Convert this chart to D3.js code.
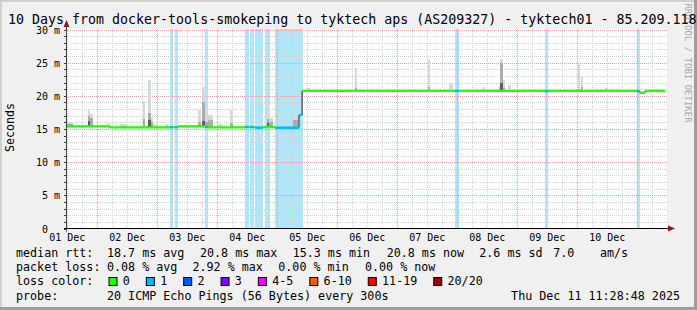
<!DOCTYPE html>
<html>
<head>
<meta charset="utf-8">
<script src="https://cdnjs.cloudflare.com/ajax/libs/d3/7.8.5/d3.min.js"></script>
<style>
  html, body { margin: 0; padding: 0; background: #f0f0f0; }
  svg text { font-family: "DejaVu Sans Mono", monospace; }
</style>
</head>
<body>
<div id="chart"></div>
<script>
// ---- data ----
var titleText = "10 Days from docker-tools-smokeping to tyktech aps (AS209327) - tyktech01 - 85.209.118";
var rangeStart = "2025-12-01 11:28:48",
    rangeEnd = "2025-12-11 11:28:48";

// median rtt (ms), stepped; loss = lost pings of 20 for that step
var medianTimes = ["2025-12-01 11:28:48", "2025-12-02 05:00:00", "2025-12-03 05:05:00", "2025-12-03 06:15:00",
    "2025-12-03 07:05:00", "2025-12-03 08:15:00", "2025-12-03 19:05:00", "2025-12-03 20:15:00",
    "2025-12-04 11:05:00", "2025-12-04 12:30:00", "2025-12-04 13:05:00", "2025-12-04 14:40:00",
    "2025-12-04 15:05:00", "2025-12-04 18:15:00", "2025-12-04 23:05:00", "2025-12-05 08:40:00",
    "2025-12-05 09:55:00", "2025-12-07 23:05:00", "2025-12-08 00:40:00", "2025-12-09 11:05:00",
    "2025-12-09 12:15:00", "2025-12-10 23:50:00", "2025-12-11 01:05:00", "2025-12-11 03:05:00"];
var medianValues = [15.4, 15.25, 15.25, 15.3, 15.25, 15.4, 15.3, 15.25, 15.3, 15.3, 15.3, 15.3,
    15.2, 15.3, 15.2, 17.1, 20.75, 20.75, 20.75, 20.7, 20.75, 20.7, 20.45, 20.75];
var medianLoss = [0, 0, 1, 0, 1, 0, 1, 0, 1, 0, 1, 0, 1, 0, 1, 1, 0, 1, 0, 1, 0, 1, 0, 0];
var medianEnd = "2025-12-11 11:05:00";

// light blue loss bands
var bandStart = ["2025-12-03 05:05:00", "2025-12-03 07:05:00", "2025-12-03 19:05:00", "2025-12-04 11:05:00",
    "2025-12-04 13:05:00", "2025-12-04 15:05:00", "2025-12-04 19:05:00", "2025-12-04 23:05:00",
    "2025-12-07 23:05:00", "2025-12-09 11:05:00", "2025-12-10 23:50:00"];
var bandEnd = ["2025-12-03 06:15:00", "2025-12-03 08:15:00", "2025-12-03 20:15:00", "2025-12-04 12:30:00",
    "2025-12-04 14:40:00", "2025-12-04 18:15:00", "2025-12-04 21:05:00", "2025-12-05 10:15:00",
    "2025-12-08 00:40:00", "2025-12-09 12:15:00", "2025-12-11 01:05:00"];

// smoke (ping spread above the median): top / mid / dark levels in ms, 0 = none
var smokeStart = ["2025-12-01 11:52", "2025-12-01 20:17", "2025-12-01 21:05", "2025-12-02 03:53", "2025-12-02 09:05",
    "2025-12-02 18:10", "2025-12-02 20:17", "2025-12-02 21:22", "2025-12-02 22:17", "2025-12-03 03:05",
    "2025-12-03 16:23", "2025-12-03 17:47", "2025-12-03 19:05", "2025-12-03 20:23", "2025-12-04 00:23",
    "2025-12-04 05:05", "2025-12-04 19:47", "2025-12-04 20:47", "2025-12-05 06:17", "2025-12-05 11:29",
    "2025-12-06 07:05", "2025-12-07 12:17", "2025-12-07 20:41", "2025-12-08 10:11", "2025-12-08 13:47",
    "2025-12-08 16:17", "2025-12-08 17:05", "2025-12-08 18:17", "2025-12-08 20:17", "2025-12-10 00:11",
    "2025-12-10 01:29", "2025-12-10 11:05"];
var smokeEnd = ["2025-12-01 14:16", "2025-12-01 21:05", "2025-12-01 22:17", "2025-12-02 05:05", "2025-12-02 11:53",
    "2025-12-02 19:05", "2025-12-02 21:22", "2025-12-02 22:10", "2025-12-02 23:53", "2025-12-03 04:17",
    "2025-12-03 17:23", "2025-12-03 19:05", "2025-12-03 20:23", "2025-12-03 22:11", "2025-12-04 02:11",
    "2025-12-04 06:11", "2025-12-04 20:47", "2025-12-04 22:11", "2025-12-05 08:17", "2025-12-05 13:05",
    "2025-12-06 07:53", "2025-12-07 13:05", "2025-12-07 22:17", "2025-12-08 11:05", "2025-12-08 15:05",
    "2025-12-08 17:05", "2025-12-08 18:17", "2025-12-08 19:05", "2025-12-08 21:23", "2025-12-10 01:05",
    "2025-12-10 02:17", "2025-12-10 12:17"];
var smokeTop = [16.0, 17.9, 17.3, 15.8, 15.8, 19.2, 22.4, 16.6, 15.7, 15.8, 17.9, 21.3, 18.3, 17.1, 15.8,
    17.9, 18.9, 16.7, 17.3, 21.2, 24.2, 25.4, 21.8, 21.4, 21.1, 21.5, 25.5, 22.4, 21.6, 25.0, 22.8, 21.2];
var smokeMid = [15.7, 17.0, 16.6, 0, 0, 16.5, 17.4, 16.0, 0, 0, 16.0, 19.0, 16.0, 16.3, 0,
    15.9, 16.5, 16.0, 16.4, 0, 21.2, 21.3, 0, 0, 0, 0, 25.0, 21.2, 0, 21.0, 21.4, 0];
var smokeDark = [0, 16.2, 0, 0, 0, 0, 16.4, 0, 0, 0, 0, 16.2, 0, 0, 0,
    0, 15.9, 0, 0, 0, 0, 0, 0, 0, 0, 0, 22.0, 0, 0, 0, 0, 0];

var yTicks = [0, 5, 10, 15, 20, 25, 30];
var yUnit = "m";
var dayLabels = ["01 Dec", "02 Dec", "03 Dec", "04 Dec", "05 Dec", "06 Dec", "07 Dec", "08 Dec", "09 Dec", "10 Dec"];

var rttStats = [18.7, 20.8, 15.3, 20.8, 2.6];
var rttStatNames = ["avg", "max", "min", "now", "sd"];
var amPerSec = 7.0;
var lossStats = [0.08, 2.92, 0.00, 0.00];
var lossStatNames = ["avg", "max", "min", "now"];
var lossLabels = ["0", "1", "2", "3", "4-5", "6-10", "11-19", "20/20"];
var lossColors = ["#26ff00", "#00b8ff", "#0059ff", "#7e00ff", "#ff00ff", "#ff5500", "#ff0000", "#a10000"];
var probeText = "20 ICMP Echo Pings (56 Bytes) every 300s";
var stampText = "Thu Dec 11 11:28:48 2025";

// ---- drawing ----
var width = 697, height = 310;
var plotLeft = 66, plotRight = 666, plotTop = 29.5, plotBottom = 228.5;

var parse = function (s) {
    return d3.timeParse("%Y-%m-%d %H:%M:%S")(s) || d3.timeParse("%Y-%m-%d %H:%M")(s);
};

var x = d3.scaleTime()
    .domain([parse(rangeStart), parse(rangeEnd)])
    .range([plotLeft, plotRight]);
var y = d3.scaleLinear()
    .domain([0, 30])
    .range([plotBottom, plotTop]);

var crisp = function (v) { return Math.round(v) + 0.5; };

var svg = d3.select("#chart")
    .append("svg")
    .attr("width", width)
    .attr("height", height);

// background + 3d frame
svg.append("rect").attr("width", width).attr("height", height).attr("fill", "#f0f0f0");
svg.append("rect").attr("x", 0).attr("y", 0).attr("width", 2).attr("height", height).attr("fill", "#cfcfcf");
svg.append("rect").attr("x", 0).attr("y", 0).attr("width", width).attr("height", 2).attr("fill", "#cfcfcf");
svg.append("rect").attr("x", width - 3).attr("y", 0).attr("width", 3).attr("height", height).attr("fill", "#9e9e9e");
svg.append("rect").attr("x", 0).attr("y", height - 3).attr("width", width).attr("height", 3).attr("fill", "#9e9e9e");

// canvas
svg.append("rect")
    .attr("x", plotLeft).attr("y", 29)
    .attr("width", plotRight - plotLeft + 1).attr("height", plotBottom - 29)
    .attr("fill", "#ffffff");

// loss bands
svg.append("g").selectAll("rect")
    .data(d3.range(bandStart.length))
    .enter()
    .append("rect")
    .attr("x", function (i) { return Math.round(x(parse(bandStart[i]))); })
    .attr("width", function (i) { return Math.max(1, Math.round(x(parse(bandEnd[i]))) - Math.round(x(parse(bandStart[i])))); })
    .attr("y", 29)
    .attr("height", plotBottom - 29)
    .attr("fill", "#b0e6fa");

// grid
var grid = svg.append("g").attr("stroke-width", 1).attr("stroke-dasharray", "1,1").attr("fill", "none");
var gridHours = d3.timeHour.every(6).range(x.domain()[0], x.domain()[1]);
grid.selectAll("line.v")
    .data(gridHours)
    .enter()
    .append("line")
    .attr("x1", function (d) { return crisp(x(d)); })
    .attr("x2", function (d) { return crisp(x(d)); })
    .attr("y1", 29).attr("y2", plotBottom)
    .attr("stroke", function (d) { return d.getHours() === 0 ? "#eaa0a0" : "#d2d2d2"; });

grid.selectAll("line.h")
    .data(d3.range(1, 31))
    .enter()
    .append("line")
    .attr("x1", plotLeft).attr("x2", plotRight + 1)
    .attr("y1", function (d) { return crisp(y(d)); })
    .attr("y2", function (d) { return crisp(y(d)); })
    .attr("stroke", function (d) { return d % 5 === 0 ? "#eaa0a0" : "#d2d2d2"; });

// smoke
var medTimes = medianTimes.map(parse);
var medianAt = function (t) {
    var i = d3.bisectRight(medTimes, t) - 1;
    return medianValues[Math.max(0, i)];
};
var smoke = svg.append("g");
var smokeIdx = d3.range(smokeStart.length);
var levels = [[smokeTop, "#d8d8d8"], [smokeMid, "#acacac"], [smokeDark, "#5e5e5e"]];
levels.forEach(function (lv) {
    smoke.append("g").selectAll("rect")
        .data(smokeIdx.filter(function (i) { return lv[0][i] > 0; }))
        .enter()
        .append("rect")
        .attr("x", function (i) { return Math.round(x(parse(smokeStart[i]))); })
        .attr("width", function (i) { return Math.max(1, Math.round(x(parse(smokeEnd[i]))) - Math.round(x(parse(smokeStart[i])))); })
        .attr("y", function (i) { return Math.round(y(lv[0][i])); })
        .attr("height", function (i) {
            var base = medianAt(parse(smokeStart[i]));
            return Math.max(0, Math.round(y(base)) - Math.round(y(lv[0][i])));
        })
        .attr("fill", lv[1]);
});

// median: thin black step line under loss-coloured segments
var stepPts = medTimes.map(function (t, i) { return [t, medianValues[i]]; });
stepPts.push([parse(medianEnd), medianValues[medianValues.length - 1]]);
svg.append("path")
    .datum(stepPts)
    .attr("fill", "none")
    .attr("stroke", "#202020")
    .attr("stroke-width", 1)
    .attr("d", d3.line()
        .curve(d3.curveStepAfter)
        .x(function (d) { return x(d[0]); })
        .y(function (d) { return y(d[1]); }));

var segEnds = medTimes.slice(1).concat([parse(medianEnd)]);
svg.append("g").selectAll("line")
    .data(d3.range(medTimes.length))
    .enter()
    .append("line")
    .attr("x1", function (i) { return x(medTimes[i]); })
    .attr("x2", function (i) { return x(segEnds[i]); })
    .attr("y1", function (i) { return y(medianValues[i]); })
    .attr("y2", function (i) { return y(medianValues[i]); })
    .attr("stroke", function (i) { return lossColors[medianLoss[i]]; })
    .attr("stroke-width", 2.4);

// axes
var axisG = svg.append("g");
axisG.selectAll("line.tick")
    .data(d3.range(0, 31))
    .enter()
    .append("line")
    .attr("x1", plotLeft - 2).attr("x2", plotLeft)
    .attr("y1", function (d) { return crisp(y(d)); })
    .attr("y2", function (d) { return crisp(y(d)); })
    .attr("stroke", "#404040");
axisG.append("line")
    .attr("x1", plotLeft + 0.5).attr("x2", plotLeft + 0.5)
    .attr("y1", plotBottom + 3).attr("y2", 24)
    .attr("stroke", "#404040");
axisG.append("line")
    .attr("x1", plotLeft - 2).attr("x2", plotRight + 3)
    .attr("y1", plotBottom).attr("y2", plotBottom)
    .attr("stroke", "#000000");
axisG.append("path")
    .attr("d", "M" + (plotLeft - 2.5) + ",27L" + (plotLeft + 3.5) + ",27L" + (plotLeft + 0.5) + ",20Z")
    .attr("fill", "#8b1a1a");
axisG.append("path")
    .attr("d", "M" + (plotRight + 2) + "," + (plotBottom - 3) + "L" + (plotRight + 2) + "," + (plotBottom + 3) +
        "L" + (plotRight + 9) + "," + plotBottom + "Z")
    .attr("fill", "#8b1a1a");

// y labels
svg.append("g").selectAll("text")
    .data(yTicks)
    .enter()
    .append("text")
    .attr("x", 60)
    .attr("y", function (d) { return crisp(y(d)) + 3.4; })
    .attr("text-anchor", "end")
    .style("font-size", "10px")
    .attr("fill", "#000")
    .text(function (d) { return d === 0 ? "0\u00a0\u00a0" : d + " " + yUnit; });

// x labels, centred on noon of each day
var labelDays = d3.timeDay.range(d3.timeDay.floor(x.domain()[0]), x.domain()[1]);
svg.append("g").selectAll("text")
    .data(labelDays.slice(0, dayLabels.length))
    .enter()
    .append("text")
    .attr("x", function (d) { return x(d3.timeHour.offset(d, 12)); })
    .attr("y", 240.5)
    .attr("text-anchor", "middle")
    .style("font-size", "10px")
    .text(function (d, i) { return dayLabels[i]; });

// vertical axis title
svg.append("text")
    .attr("transform", "translate(14,127.5) rotate(-90)")
    .attr("text-anchor", "middle")
    .style("font-size", "11.6px")
    .text("Seconds");

// watermark
svg.append("text")
    .attr("transform", "translate(685,63) rotate(90)")
    .attr("text-anchor", "middle")
    .style("font-size", "9px")
    .attr("fill", "#a8a8a8")
    .text("RRDTOOL / TOBI OETIKER");

// title
svg.append("text")
    .attr("x", 8)
    .attr("y", 24)
    .style("font-size", "13.3px")
    .text(titleText);

// legend
var legend = svg.append("g").style("font-size", "11.7px");
var rows = [257, 271.2, 285.4, 299.6];

legend.append("text").attr("x", 16).attr("y", rows[0]).text("median rtt:");
var rttX = [107, 200, 292.7, 386.7, 479.3];
rttStats.forEach(function (v, i) {
    legend.append("text").attr("x", rttX[i]).attr("y", rows[0])
        .text(v.toFixed(1) + " ms " + rttStatNames[i]);
});
legend.append("text").attr("x", 553.3).attr("y", rows[0]).text(amPerSec.toFixed(1));
legend.append("text").attr("x", 600).attr("y", rows[0]).text("am/s");

legend.append("text").attr("x", 16).attr("y", rows[1]).text("packet loss:");
var lossX = [107, 192.5, 278.3, 365];
lossStats.forEach(function (v, i) {
    legend.append("text").attr("x", lossX[i]).attr("y", rows[1])
        .text(v.toFixed(2) + " % " + lossStatNames[i]);
});

legend.append("text").attr("x", 16).attr("y", rows[2]).text("loss color:");
var lx = 108.5;
lossLabels.forEach(function (lab, i) {
    legend.append("rect")
        .attr("x", lx + 0.5).attr("y", 277.5)
        .attr("width", 8).attr("height", 8)
        .attr("fill", lossColors[i])
        .attr("stroke", "#000");
    var t = legend.append("text").attr("x", lx + 14.3).attr("y", rows[2]).text(lab);
    lx = lx + 14.3 + t.node().getComputedTextLength() + 16;
});

legend.append("text").attr("x", 16).attr("y", rows[3]).text("probe:");
legend.append("text").attr("x", 107).attr("y", rows[3]).text(probeText);
legend.append("text").attr("x", 680).attr("y", rows[3]).attr("text-anchor", "end").text(stampText);
</script>
</body>
</html>
